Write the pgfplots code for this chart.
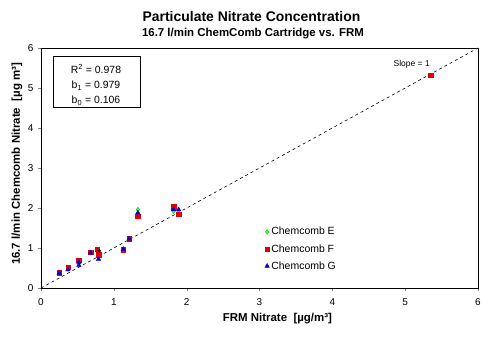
\documentclass[border=0pt]{standalone}
\usepackage{pgfplots}
\pgfplotsset{compat=1.18}
\usepackage{fontspec}
\setmainfont{Liberation Sans}
\begin{document}
\begin{tikzpicture}[x=1bp,y=1bp]
\path (-41bp,-63bp) rectangle (453bp,288bp);
\begin{axis}[
  at={(0bp,0bp)}, anchor=south west,
  scale only axis, width=437bp, height=240bp,
  xmin=0, xmax=6, ymin=0, ymax=6,
  xtick={0,1,2,3,4,5,6}, ytick={0,1,2,3,4,5,6},
  tick align=outside, major tick length=3bp,
  xtick pos=bottom, ytick pos=left,
  tick label style={font=\fontsize{10}{12}\selectfont},
  xticklabel style={yshift=-4bp},
  yticklabel style={xshift=-1bp},
  /pgf/number format/assume math mode=true,
  axis line style={line width=0.8pt},
  xlabel={\bfseries FRM Nitrate~~[µg/m³]},
  ylabel={\bfseries 16.7 l/min Chemcomb Nitrate~~[µg m³]},
  label style={font=\fontsize{11.5}{13}\selectfont},
  xlabel style={at={(axis description cs:0.541,-0.128)}, anchor=center},
  ylabel style={at={(axis description cs:-0.055,0.517)}, anchor=center},
  legend style={draw=none, fill=none, at={(0.505,0.27)}, anchor=north west, font=\fontsize{10.5}{12}\selectfont, row sep=4bp, legend cell align=left},
  legend image code/.code={\draw[#1] plot coordinates {(0.1cm,0cm)};},
  clip=false,
]
\addplot[black, dashed, line width=0.6pt, forget plot] coordinates {(0,0) (6,6)};
\addplot[only marks, mark=diamond*, mark size=2.3bp, color=green!80!black, fill=green!70] coordinates {
(0.25,0.36) (0.37,0.47) (0.52,0.62) (0.68,0.88) (0.79,0.84) (1.13,0.96) (1.21,1.22) (1.33,1.96) (1.82,1.92) (1.89,1.93)
};
\addlegendentry{Chemcomb E}
\addplot[only marks, mark=square*, mark size=2.2bp, color=red!90!black, fill=red!90!black] coordinates {
(0.25,0.38) (0.37,0.52) (0.52,0.70) (0.68,0.89) (0.77,0.97) (0.79,0.83) (1.13,0.96) (1.21,1.23) (1.33,1.79) (1.82,2.03) (1.89,1.85) (5.35,5.32)
};
\addlegendentry{Chemcomb F}
\addplot[only marks, mark=triangle*, mark size=2.6bp, color=blue!80!black, fill=blue!80!black] coordinates {
(0.25,0.37) (0.37,0.46) (0.52,0.57) (0.52,0.65) (0.68,0.88) (0.79,0.72) (1.13,0.97) (1.21,1.23) (1.33,1.88) (1.82,1.96) (1.89,1.96)
};
\addlegendentry{Chemcomb G}
\addplot[only marks, mark=*, mark size=1.5bp, black, forget plot] coordinates {(0.80,0.93)};
\node[font=\fontsize{8.5}{10}\selectfont, anchor=center] at (axis cs:5.09,5.6) {Slope = 1};
\node[draw, line width=0.6pt, anchor=north west, inner sep=0pt, minimum width=87bp, minimum height=51bp] at (axis cs:0.16,5.796) {};
\node[align=center, inner sep=0pt, font=\fontsize{10.5}{15}\selectfont] at (axis cs:0.755,5.075) {R\textsuperscript{2} = 0.978\\b\textsubscript{1} = 0.979\\b\textsubscript{0} = 0.106};
\end{axis}
\node[font=\bfseries\fontsize{14}{16}\selectfont] at (210.5bp,271bp) {Particulate Nitrate Concentration};
\node[font=\bfseries\fontsize{11.5}{13}\selectfont] at (212bp,254bp) {16.7 l/min ChemComb Cartridge vs. FRM};
\end{tikzpicture}
\end{document}
